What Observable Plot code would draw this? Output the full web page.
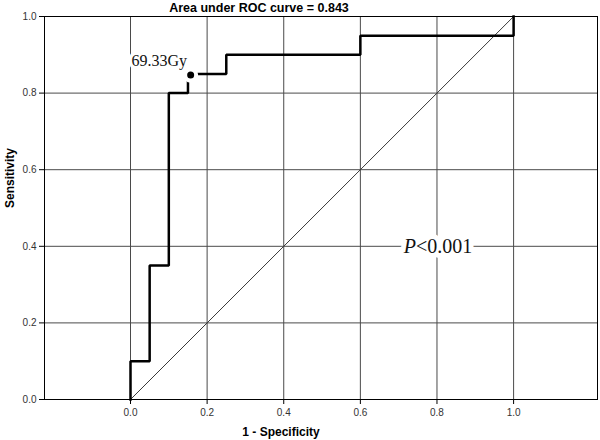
<!DOCTYPE html>
<html>
<head>
<meta charset="utf-8">
<script src="https://cdn.jsdelivr.net/npm/d3@7"></script>
<script src="https://cdn.jsdelivr.net/npm/@observablehq/plot@0.6"></script>
<style>
  html, body { margin: 0; padding: 0; background: #fff; }
  #chart svg { display: block; }
</style>
</head>
<body>
<div id="chart"></div>
<script>
// ROC curve vertices (1 - specificity, sensitivity)
const fpr = [0, 0, 0.05, 0.05, 0.10, 0.10, 0.15, 0.15, 0.25, 0.25, 0.60, 0.60, 1.00, 1.00];
const tpr = [0, 0.10, 0.10, 0.35, 0.35, 0.80, 0.80, 0.85, 0.85, 0.90, 0.90, 0.95, 0.95, 1.00];
// reference line
const refX = [0, 1];
const refY = [0, 1];
// cut-off point
const cutX = [0.157];
const cutY = [0.847];
const cutLabel = ["69.33Gy"];
const labelX = [0.075];
const labelY = [0.883];
// p-value annotation (italic letter + remainder)
const pLetter = ["P"];
const pRest = ["<0.001"];
const pX = [0.8];
const pY = [0.4];
// axis ticks
const xTicks = [0, 0.2, 0.4, 0.6, 0.8, 1.0];
const yTicks = [0, 0.2, 0.4, 0.6, 0.8, 1.0];
const titleText = "Area under ROC curve = 0.843";
const xLabel = "1 - Specificity";
const yLabel = "Sensitivity";

const curve = fpr.map((x, i) => ({x, y: tpr[i]}));
const diag = refX.map((x, i) => ({x, y: refY[i]}));
const cut = cutX.map((x, i) => ({x, y: cutY[i]}));
const lab = cutLabel.map((t, i) => ({t, x: labelX[i], y: labelY[i]}));
const pv = pX.map((x, i) => ({x, y: pY[i], a: pLetter[i], b: pRest[i]}));

const gridCol = "#4a4a4a";
const serif = "'Liberation Serif', 'Times New Roman', serif";

const plot = Plot.plot({
  width: 600,
  height: 440,
  marginTop: 16,
  marginBottom: 41,
  marginLeft: 44,
  marginRight: 3,
  style: {fontFamily: "'Liberation Sans', Arial, sans-serif", fontSize: "10px", color: "#222", background: "#fff"},
  x: {domain: [-0.2245, 1.219], label: null},
  y: {domain: [0, 1], label: null},
  marks: [
    Plot.gridX(xTicks, {stroke: gridCol, strokeOpacity: 1, strokeWidth: 1}),
    Plot.gridY(yTicks.filter(d => d > 0 && d < 1), {stroke: gridCol, strokeOpacity: 1, strokeWidth: 1}),
    Plot.frame({stroke: "#000", strokeWidth: 1}),
    Plot.axisX(xTicks, {tickFormat: d3.format(".1f"), tickSize: 5, tickPadding: 4, stroke: "#000", fill: "#333", fontSize: 10, label: null}),
    Plot.axisY(yTicks, {tickFormat: d3.format(".1f"), tickSize: 5, tickPadding: 3, stroke: "#000", fill: "#333", fontSize: 10, label: null}),
    Plot.line(diag, {x: "x", y: "y", stroke: "#3a3a3a", strokeWidth: 1}),
    Plot.line(curve, {x: "x", y: "y", stroke: "#000", strokeWidth: 2.5, strokeLinejoin: "miter", strokeLinecap: "square"}),
    Plot.dot(cut, {x: "x", y: "y", r: 5.5, fill: "#000", stroke: "#fff", strokeWidth: 4}),
    Plot.text(lab, {x: "x", y: "y", text: "t", fontFamily: serif, fontSize: 16, fill: "#111", stroke: "#fff", strokeWidth: 7}),
    // halos for P<0.001 (drawn first, then glyphs)
    Plot.text(pv, {x: "x", y: "y", text: "a", textAnchor: "end", dx: -21, fontFamily: serif, fontStyle: "italic", fontSize: 20, fill: "#fff", stroke: "#fff", strokeWidth: 10}),
    Plot.text(pv, {x: "x", y: "y", text: "b", textAnchor: "start", dx: -21, fontFamily: serif, fontSize: 20, fill: "#fff", stroke: "#fff", strokeWidth: 10}),
    Plot.text(pv, {x: "x", y: "y", text: "a", textAnchor: "end", dx: -21, fontFamily: serif, fontStyle: "italic", fontSize: 20, fill: "#111"}),
    Plot.text(pv, {x: "x", y: "y", text: "b", textAnchor: "start", dx: -21, fontFamily: serif, fontSize: 20, fill: "#111"}),
    Plot.text([titleText], {frameAnchor: "top", text: d => d, dy: -9, lineAnchor: "middle", dx: -62, fontWeight: "bold", fontSize: 12.5, fill: "#000"}),
    Plot.text([xLabel], {frameAnchor: "bottom", text: d => d, dy: 33, lineAnchor: "middle", dx: -40, fontWeight: "bold", fontSize: 12, fill: "#000"}),
    Plot.text([yLabel], {frameAnchor: "left", text: d => d, dx: -34, dy: 0, rotate: -90, lineAnchor: "middle", fontWeight: "bold", fontSize: 12, fill: "#000"})
  ]
});

document.getElementById("chart").appendChild(plot);
</script>
</body>
</html>
